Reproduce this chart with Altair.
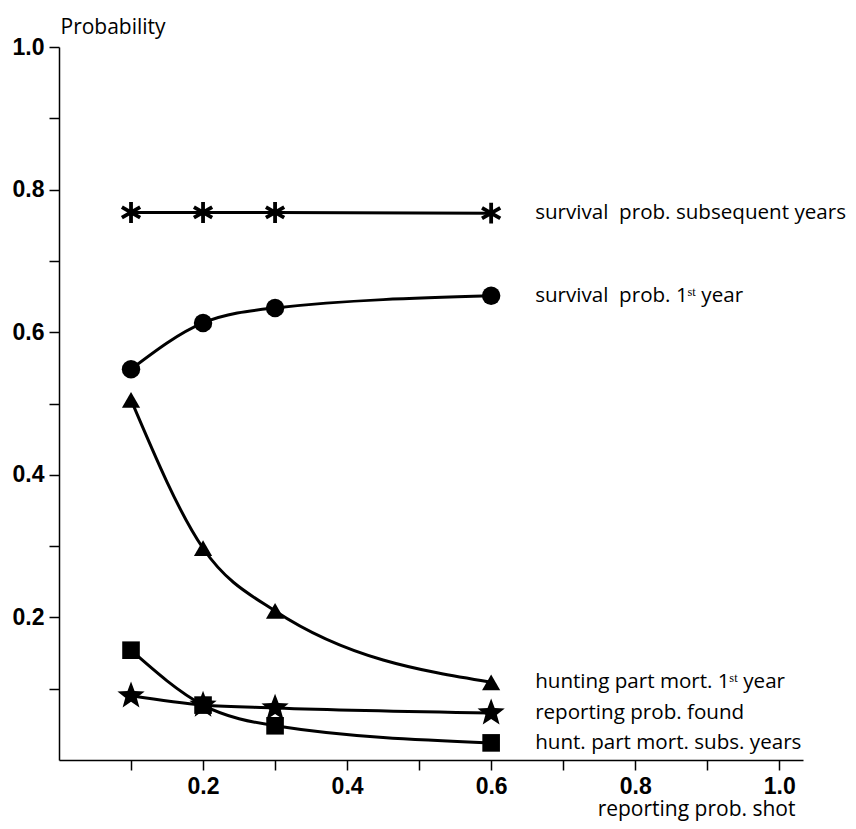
import math
import altair as alt
import pandas as pd

# ---- data ----
x_vals = [0.1, 0.2, 0.3, 0.6]
series_names = [
    "survival\u00a0 prob. subsequent years",
    "survival\u00a0 prob. 1\u02e2\u1d57 year",
    "hunting part mort. 1\u02e2\u1d57 year",
    "reporting prob. found",
    "hunt. part mort. subs. years",
]
surv_subs = [0.768, 0.768, 0.768, 0.767]
surv_first = [0.548, 0.613, 0.634, 0.651]
hunt_first = [0.505, 0.297, 0.209, 0.109]
rep_found = [0.090, 0.077, 0.073, 0.066]
hunt_subs = [0.154, 0.077, 0.048, 0.024]
series_values = [surv_subs, surv_first, hunt_first, rep_found, hunt_subs]

x_ticks = [0.1, 0.2, 0.3, 0.4, 0.5, 0.6, 0.7, 0.8, 0.9, 1.0]
y_ticks = [0.1, 0.2, 0.3, 0.4, 0.5, 0.6, 0.7, 0.8, 0.9, 1.0]

rows = []
for name, ys in zip(series_names, series_values):
    for x, y in zip(x_vals, ys):
        rows.append({"series": name, "x": x, "y": y})
df = pd.DataFrame(rows)
labels_df = df[df["x"] == x_vals[-1]]

# ---- marker shapes ----
asterisk = "M0,-1L0,1M-0.87,-0.5L0.87,0.5M-0.87,0.5L0.87,-0.5"
pts = []
for k in range(10):
    ang = -math.pi / 2 + k * math.pi / 5
    r = 1.0 if k % 2 == 0 else 0.42
    pts.append(f"{r * math.cos(ang):.3f},{r * math.sin(ang):.3f}")
star = "M" + "L".join(pts) + "Z"

label_expr = "round(datum.value*10) % 2 == 0 ? format(datum.value, '.1f') : ''"
common_axis = dict(
    labelExpr=label_expr,
    labelFont="Liberation Sans",
    labelFontWeight="bold",
    labelFontSize=23,
    labelColor="black",
    labelOverlap=False,
    labelFlush=False,
    tickSize=10,
    tickWidth=1.5,
    tickColor="black",
    domainWidth=1.5,
    domainColor="black",
    grid=False,
    titleFont="Open Sans",
    titleFontSize=21,
    titleFontWeight="normal",
    titleColor="black",
    titleBaseline="alphabetic",
    titleAngle=0,
)

x_enc = alt.X(
    "x:Q",
    scale=alt.Scale(domain=[0, 1.033], nice=False, zero=False),
    axis=alt.Axis(values=x_ticks, title="reporting prob. shot", titleX=736,
                  titleY=55, titleAlign="right", labelPadding=5, **common_axis),
)
y_enc = alt.Y(
    "y:Q",
    scale=alt.Scale(domain=[0, 1], nice=False),
    axis=alt.Axis(values=y_ticks, title="Probability", titleX=1, titleY=-14,
                  titleAlign="left", labelPadding=5, **common_axis),
)

base = alt.Chart(df)

lines = base.mark_line(color="black", strokeWidth=3, interpolate="monotone").encode(
    x=x_enc, y=y_enc, detail="series:N"
)

marker_styles = [
    dict(shape=asterisk, filled=False, size=440, strokeWidth=3.8),
    dict(shape="circle", filled=True, size=340),
    dict(shape="triangle-up", filled=True, size=330),
    dict(shape=star, filled=True, size=820),
    dict(shape="square", filled=True, size=310),
]

layers = [lines]
for name, style in zip(series_names, marker_styles):
    layers.append(
        base.transform_filter(alt.datum.series == name)
        .mark_point(color="black", opacity=1, **style)
        .encode(x=x_enc, y=y_enc)
    )

text = alt.Chart(labels_df).mark_text(
    align="left", baseline="middle", dx=44, font="Open Sans", fontSize=20.6, color="black"
).encode(x=x_enc, y=y_enc, text="series:N")
layers.append(text)

chart = (
    alt.layer(*layers)
    .properties(
        width=744,
        height=713,
        autosize=alt.AutoSizeParams(type="none"),
        padding={"left": 51, "top": 39, "right": 45, "bottom": 61},
        background="white",
    )
    .configure_view(strokeWidth=0)
)

chart.save("out.html", embed_options={"renderer": "svg", "actions": False})
